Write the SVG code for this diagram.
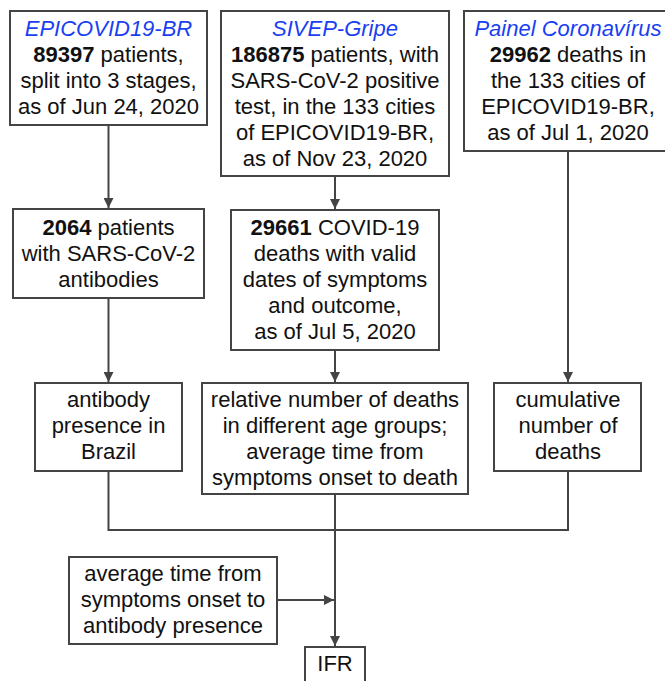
<svg xmlns="http://www.w3.org/2000/svg" width="665" height="681" viewBox="0 0 665 681">
<style>
.box{fill:#fff;stroke:#444;stroke-width:2}
.t{font-family:"Liberation Sans",Arial,sans-serif;font-size:22px;fill:#111;text-anchor:middle}
.src{fill:#1a3ff2;font-style:italic}
.b{font-weight:bold}
.c{fill:none;stroke:#444;stroke-width:2}
</style>
<defs>
<marker id="ah" viewBox="0 0 10 10" refX="10" refY="5" markerWidth="10" markerHeight="10" markerUnits="userSpaceOnUse" orient="auto">
<path d="M0,0 L10,5 L0,10 z" fill="#444"/>
</marker>
</defs>
<rect width="665" height="681" fill="#fff"/>
<g id="connectors">
<path class="c" d="M108.5,125 V208" marker-end="url(#ah)"/>
<path class="c" d="M335,176 V209" marker-end="url(#ah)"/>
<path class="c" d="M568,151 V382" marker-end="url(#ah)"/>
<path class="c" d="M108.5,298 V382" marker-end="url(#ah)"/>
<path class="c" d="M335,350 V382" marker-end="url(#ah)"/>
<path class="c" d="M108.5,471 V530 H568 V471"/>
<path class="c" d="M335,494 V646" marker-end="url(#ah)"/>
<path class="c" d="M277,600 H334" marker-end="url(#ah)"/>
</g>
<g id="epicovid">
<rect class="box" x="10" y="11" width="197" height="114"/>
<text class="t" x="108.5" y="36"><tspan class="src">EPICOVID19-BR</tspan></text>
<text class="t" x="108.5" y="62"><tspan class="b">89397</tspan> patients,</text>
<text class="t" x="108.5" y="88">split into 3 stages,</text>
<text class="t" x="108.5" y="114">as of Jun 24, 2020</text>
</g>
<g id="sivep">
<rect class="box" x="221" y="11" width="228" height="165"/>
<text class="t" x="335" y="36"><tspan class="src">SIVEP-Gripe</tspan></text>
<text class="t" x="335" y="62"><tspan class="b">186875</tspan> patients, with</text>
<text class="t" x="335" y="88">SARS-CoV-2 positive</text>
<text class="t" x="335" y="114">test, in the 133 cities</text>
<text class="t" x="335" y="140">of EPICOVID19-BR,</text>
<text class="t" x="335" y="166">as of Nov 23, 2020</text>
</g>
<g id="painel">
<rect class="box" x="464" y="11" width="210" height="140"/>
<text class="t" x="568" y="36"><tspan class="src">Painel Coronavírus</tspan></text>
<text class="t" x="568" y="62"><tspan class="b">29962</tspan> deaths in</text>
<text class="t" x="568" y="88">the 133 cities of</text>
<text class="t" x="568" y="114">EPICOVID19-BR,</text>
<text class="t" x="568" y="140">as of Jul 1, 2020</text>
</g>
<g id="antibodies">
<rect class="box" x="13" y="209" width="191" height="89"/>
<text class="t" x="108.5" y="235"><tspan class="b">2064</tspan> patients</text>
<text class="t" x="108.5" y="261">with SARS-CoV-2</text>
<text class="t" x="108.5" y="287">antibodies</text>
</g>
<g id="deaths-valid">
<rect class="box" x="231" y="210" width="208" height="140"/>
<text class="t" x="335" y="235"><tspan class="b">29661</tspan> COVID-19</text>
<text class="t" x="335" y="261">deaths with valid</text>
<text class="t" x="335" y="287">dates of symptoms</text>
<text class="t" x="335" y="313">and outcome,</text>
<text class="t" x="335" y="339">as of Jul 5, 2020</text>
</g>
<g id="presence">
<rect class="box" x="35" y="383" width="147" height="88"/>
<text class="t" x="108.5" y="407">antibody</text>
<text class="t" x="108.5" y="433">presence in</text>
<text class="t" x="108.5" y="459">Brazil</text>
</g>
<g id="relative">
<rect class="box" x="202" y="383" width="266" height="111"/>
<text class="t" x="335" y="407">relative number of deaths</text>
<text class="t" x="335" y="433">in different age groups;</text>
<text class="t" x="335" y="459">average time from</text>
<text class="t" x="335" y="485">symptoms onset to death</text>
</g>
<g id="cumulative">
<rect class="box" x="494" y="383" width="147" height="88"/>
<text class="t" x="568" y="407">cumulative</text>
<text class="t" x="568" y="433">number of</text>
<text class="t" x="568" y="459">deaths</text>
</g>
<g id="avgtime">
<rect class="box" x="69" y="557" width="208" height="87"/>
<text class="t" x="173" y="581">average time from</text>
<text class="t" x="173" y="607">symptoms onset to</text>
<text class="t" x="173" y="633">antibody presence</text>
</g>
<g id="ifr">
<rect class="box" x="305" y="647" width="60" height="45"/>
<text class="t" x="335" y="671">IFR</text>
</g>
</svg>
